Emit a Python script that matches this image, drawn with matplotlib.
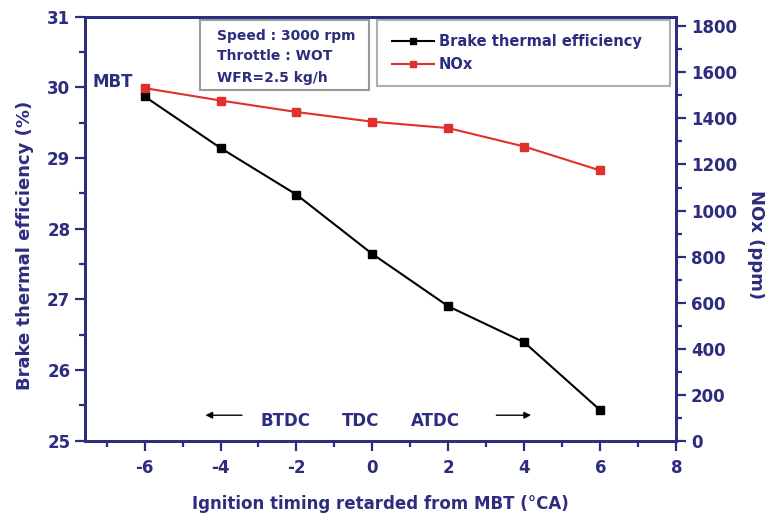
import matplotlib
matplotlib.use("Agg")
import matplotlib.pyplot as plt
from matplotlib.lines import Line2D
from matplotlib.patches import Rectangle
from matplotlib.ticker import MultipleLocator

timing = [-6, -4, -2, 0, 2, 4, 6]
bte = [29.87, 29.14, 28.48, 27.64, 26.90, 26.39, 25.43]
nox = [1532, 1478, 1428, 1386, 1358, 1278, 1174]
x_ticks = [-6, -4, -2, 0, 2, 4, 6, 8]
left_ticks = [25, 26, 27, 28, 29, 30, 31]
right_ticks = [0, 200, 400, 600, 800, 1000, 1200, 1400, 1600, 1800]
info_lines = ["Speed : 3000 rpm", "Throttle : WOT", "WFR=2.5 kg/h"]

NAVY = "#2d2d7f"
RED = "#e0302c"
plt.rcParams['font.family'] = ['DejaVu Sans']
plt.rcParams['font.weight'] = 'bold'
plt.rcParams['axes.unicode_minus'] = False

fig = plt.figure(figsize=(7.65, 5.16), dpi=100)
ax = fig.add_axes([0.111, 0.146, 0.773, 0.822])
ax2 = ax.twinx()

ax.plot(timing, bte, color="black", lw=1.5, marker="s", ms=6, zorder=3)
ax2.plot(timing, nox, color=RED, lw=1.5, marker="s", ms=6, zorder=3)

ax.set_xlim(-7.57, 8)
ax.set_ylim(25, 31)
ax2.set_ylim(0, 1843)
ax.set_xticks(x_ticks)
ax.set_yticks(left_ticks)
ax2.set_yticks(right_ticks)
ax.xaxis.set_minor_locator(MultipleLocator(1))
ax.yaxis.set_minor_locator(MultipleLocator(0.5))
ax2.yaxis.set_minor_locator(MultipleLocator(100))

for a in (ax, ax2):
    for s in a.spines.values():
        s.set_color(NAVY)
        s.set_linewidth(2)
    a.tick_params(which='major', length=7, width=1.6, color=NAVY,
                  labelcolor=NAVY, labelsize=12, direction='out')
    a.tick_params(which='minor', length=4, width=1.6, color=NAVY, direction='out')
ax.tick_params(axis='x', which='major', pad=6)

ax.set_xlabel("Ignition timing retarded from MBT (\u00b0CA)", color=NAVY,
              fontsize=12, fontweight='bold', labelpad=13)
ax.set_ylabel("Brake thermal efficiency (%)", color=NAVY, fontsize=13, fontweight='bold')
ax.yaxis.set_label_coords(-0.0863, 0.4616)
ax2.set_ylabel("NOx (ppm)", color=NAVY, fontsize=13, fontweight='bold', rotation=270)
ax2.yaxis.set_label_coords(1.1505, 0.4616)

# MBT label
ax.text(-6.85, 30.08, "MBT", color=NAVY, fontsize=12, fontweight='bold',
        ha='center', va='center')

# BTDC/TDC/ATDC annotation
ax.annotate('', xy=(-4.47, 25.36), xytext=(-3.36, 25.36),
            arrowprops=dict(arrowstyle='-|>', color='black', lw=1, mutation_scale=10))
ax.annotate('', xy=(4.25, 25.36), xytext=(3.19, 25.36),
            arrowprops=dict(arrowstyle='-|>', color='black', lw=1, mutation_scale=10))
for xx, t in zip([-2.29, -0.31, 1.67], ["BTDC", "TDC", "ATDC"]):
    ax.text(xx, 25.28, t, color=NAVY, fontsize=12, fontweight='bold',
            ha='center', va='center')

# info box
ax.add_patch(Rectangle((0.1946, 0.827), 0.2859, 0.165, transform=ax.transAxes,
                       fill=False, edgecolor='#9a9a9a', lw=1.5, zorder=4))
for yy, t in zip([0.953, 0.906, 0.856], info_lines):
    ax.text(0.2229, yy, t, transform=ax.transAxes, color=NAVY, fontsize=10,
            fontweight='bold', ha='left', va='center')

handles = [Line2D([], [], color='black', lw=1.5, marker='s', ms=5),
           Line2D([], [], color=RED, lw=1.5, marker='s', ms=5)]
leg = ax2.legend(handles, ["Brake thermal efficiency", "NOx"],
                 loc='upper left', bbox_to_anchor=(0.494, 0.846, 0.496, 0.146),
                 mode='expand', frameon=True, fancybox=False, borderaxespad=0,
                 handlelength=2.9, handletextpad=0.35, borderpad=1.0,
                 labelspacing=0.5, prop={'weight': 'bold', 'size': 10.5})
leg.get_frame().set_edgecolor('#9a9a9a')
leg.get_frame().set_linewidth(1.5)
for t in leg.get_texts():
    t.set_color(NAVY)

fig.savefig("out.png", dpi=100)
